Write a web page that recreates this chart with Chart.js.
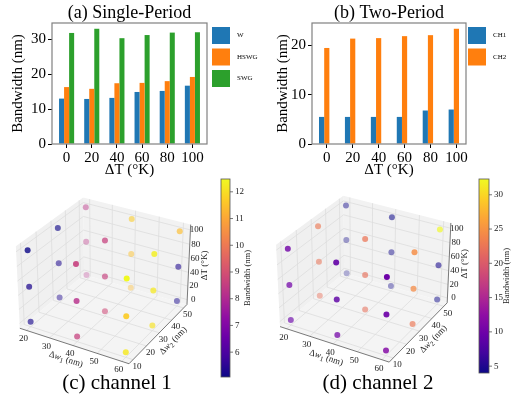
<!DOCTYPE html>
<html>
<head>
<meta charset="utf-8">
<script src="https://cdn.jsdelivr.net/npm/chart.js@4.4.0/dist/chart.umd.min.js"></script>
<style>
  body { margin: 0; background: #fff; }
  #wrap { position: relative; width: 514px; height: 400px; overflow: hidden; }
  canvas { position: absolute; }
</style>
</head>
<body>
<div id="wrap">
  <canvas id="chartA" width="262" height="180" style="left:0;top:0;width:262px;height:180px"></canvas>
  <canvas id="chartB" width="257" height="180" style="left:257px;top:0;width:257px;height:180px"></canvas>
  <canvas id="chartC" width="257" height="225" style="left:0;top:175px;width:257px;height:225px"></canvas>
  <canvas id="chartD" width="257" height="225" style="left:257px;top:175px;width:257px;height:225px"></canvas>
</div>
<script>
// ---- data: bar charts
const temps = ["0", "20", "40", "60", "80", "100"];
const singleW = [13.0, 12.9, 13.2, 14.9, 15.2, 16.7];
const singleHSWG = [16.3, 15.8, 17.4, 17.5, 18.0, 19.2];
const singleSWG = [31.8, 33.0, 30.3, 31.2, 31.9, 32.0];
const twoCH1 = [5.5, 5.5, 5.5, 5.5, 6.8, 7.0];
const twoCH2 = [19.5, 21.4, 21.5, 21.9, 22.1, 23.4];
const singleTicks = [0, 10, 20, 30];
const twoTicks = [0, 10, 20];

// ---- data: 3D scatter (rows: dw2 = 10, 30, 50; each row dw1 = 20, 40, 60)
const dw1Levels = [20, 40, 60];
const dw2Levels = [10, 30, 50];
const dTLevels = [0, 50, 100];
const ch1At0 = [5.2, 8.6, 12.2, 5.3, 8.8, 12.1, 8.2, 11.4, 5.2];
const ch1At50 = [5.3, 8.2, 11.7, 5.3, 8.6, 12.2, 8.3, 11.5, 5.3];
const ch1At100 = [5.07, 8.6, 12.48, 5.1, 8.6, 12.3, 8.3, 11.7, 11.4];
const ch2At0 = [9.5, 10.3, 11.6, 22.0, 22.0, 22.7, 4.0, 4.1, 4.0];
const ch2At50 = [10.2, 8.8, 9.9, 22.4, 22.0, 24.4, 4.1, 4.2, 4.5];
const ch2At100 = [10.2, 9.2, 10.0, 22.7, 22.4, 24.6, 4.2, 4.1, 32.3];
const dw1Ticks = [20, 30, 40, 50, 60];
const dw2Ticks = [10, 20, 30, 40, 50];
const dTTicks = [0, 20, 40, 60, 80, 100];
const cb1Ticks = [6, 7, 8, 9, 10, 11, 12];
const cb2Ticks = [5, 10, 15, 20, 25, 30];

const serif = '"Liberation Serif", "Times New Roman", serif';

// rectangle round the plot, like matplotlib spines
const frame = {
  id: "frame",
  afterDatasetsDraw(chart) {
    const { ctx, chartArea: a } = chart;
    ctx.save();
    ctx.strokeStyle = "#808080";
    ctx.lineWidth = 1.2;
    ctx.strokeRect(a.left, a.top, a.right - a.left, a.bottom - a.top);
    ctx.restore();
  },
};

// legend with big square handles placed outside the axes
const boxLegend = {
  id: "boxLegend",
  afterDraw(chart, args, opts) {
    const ctx = chart.ctx;
    let y = opts.y;
    ctx.save();
    chart.data.datasets.forEach((ds) => {
      if (!ds.label) return;
      ctx.fillStyle = ds.backgroundColor;
      ctx.fillRect(opts.x, y, 18, 17);
      ctx.fillStyle = "#000";
      ctx.font = "7px " + serif;
      ctx.textBaseline = "middle";
      ctx.fillText(ds.label, opts.x + 25, y + 8.5);
      y += opts.step;
    });
    ctx.restore();
  },
};

const toPoints = (arr) => arr.map((v, i) => ({ x: i, y: v }));

function barChart(id, title, datasets, xRange, ymax, yTicks, leftW, rightPad, yTitlePad, legendX) {
  return new Chart(document.getElementById(id), {
    type: "bar",
    data: { datasets: datasets },
    plugins: [frame, boxLegend],
    options: {
      responsive: false,
      animation: false,
      events: [],
      layout: { padding: { right: rightPad } },
      datasets: { bar: { categoryPercentage: 0.6, barPercentage: 1.0 } },
      scales: {
        x: {
          type: "linear",
          offset: false,
          min: xRange[0],
          max: xRange[1],
          afterFit: (s) => { s.height = 36; },
          afterBuildTicks: (s) => { s.ticks = temps.map((t, i) => ({ value: i })); },
          ticks: { font: { family: serif, size: 15 }, color: "#000", padding: 1, maxRotation: 0, callback: (v, i) => temps[i] },
          grid: { drawOnChartArea: false, offset: false, tickLength: 4, color: "#000" },
          border: { display: false },
          title: { display: true, text: "ΔT (°K)", font: { family: serif, size: 15 }, color: "#000", padding: { top: 0, bottom: 1 } },
        },
        y: {
          min: 0,
          max: ymax,
          afterFit: (s) => { s.width = leftW; },
          afterBuildTicks: (s) => { s.ticks = yTicks.map((v) => ({ value: v })); },
          ticks: { font: { family: serif, size: 15 }, color: "#000", padding: 2 },
          grid: { drawOnChartArea: false, tickLength: 4, color: "#000" },
          border: { display: false },
          title: { display: true, text: "Bandwidth (nm)", font: { family: serif, size: 15 }, color: "#000", padding: { top: yTitlePad, bottom: 0 } },
        },
      },
      plugins: {
        legend: { display: false },
        tooltip: { enabled: false },
        title: {
          display: true, text: title, color: "#000", fullSize: false,
          font: { family: serif, size: 18, weight: "normal", lineHeight: 1 }, padding: { top: 4, bottom: 1 },
        },
        boxLegend: { x: legendX, y: 27, step: 21.5 },
      },
    },
  });
}

barChart("chartA", "(a) Single-Period", [
  { label: "W", data: toPoints(singleW), backgroundColor: "#1f77b4" },
  { label: "HSWG", data: toPoints(singleHSWG), backgroundColor: "#ff7f0e" },
  { label: "SWG", data: toPoints(singleSWG), backgroundColor: "#2ca02c" },
], [-0.58, 5.58], 34.65, singleTicks, 52, 55, 9, 212);

// third empty slot keeps CH2 on the tick, as in the original
barChart("chartB", "(b) Two-Period", [
  { label: "CH1", data: toPoints(twoCH1), backgroundColor: "#1f77b4" },
  { label: "CH2", data: toPoints(twoCH2), backgroundColor: "#ff7f0e" },
  { label: "", data: toPoints(temps.map(() => null)), backgroundColor: "rgba(0,0,0,0)" },
], [-0.57, 5.37], 24.57, twoTicks, 55, 48, 17, 211);

// ---- 3D helpers
const plasmaStops = [
  [13, 8, 135], [65, 4, 157], [106, 0, 168], [143, 13, 164], [177, 42, 144], [204, 71, 120],
  [225, 100, 98], [242, 132, 75], [252, 166, 54], [252, 206, 37], [240, 249, 33],
];
function plasma(t, alpha) {
  t = Math.max(0, Math.min(1, t)) * 10;
  const i = Math.min(9, Math.floor(t));
  const f = t - i;
  const c = plasmaStops[i].map((v, k) => Math.round(v + (plasmaStops[i + 1][k] - v) * f));
  return `rgba(${c[0]},${c[1]},${c[2]},${alpha === undefined ? 1 : alpha.toFixed(3)})`;
}

const lims = [[18, 62], [8, 52], [-5, 105]];
const paneLims = lims.map(([a, b]) => [a - (b - a) / 48, b + (b - a) / 48]);

function makeProjector(cx, cy, s) {
  const e = (30 * Math.PI) / 180, a = (-60 * Math.PI) / 180, dist = 10;
  const aspect = [4, 4, 3];
  const n = Math.hypot(...aspect);
  const box = aspect.map((v) => (1.83 * v) / n);
  const w = [Math.cos(e) * Math.cos(a), Math.cos(e) * Math.sin(a), Math.sin(e)];
  const u = [-Math.sin(a), Math.cos(a), 0];
  const v = [-Math.sin(e) * Math.cos(a), -Math.sin(e) * Math.sin(a), Math.cos(e)];
  return (x, y, z) => {
    const p = [x, y, z].map((val, i) => ((val - lims[i][0]) / (lims[i][1] - lims[i][0]) - 0.5) * box[i]);
    const dot = (q) => q[0] * p[0] + q[1] * p[1] + q[2] * p[2];
    const depth = dist - dot(w);
    return { x: cx + (s * dot(u)) / depth, y: cy - (s * dot(v)) / depth, depth: depth };
  };
}

// text made of pieces (italic / subscript), centred and rotated
function richText(ctx, parts, x, y, angle, size) {
  ctx.save();
  ctx.translate(x, y);
  ctx.rotate(angle);
  ctx.fillStyle = "#222";
  ctx.textAlign = "left";
  ctx.textBaseline = "middle";
  const fonts = parts.map((p) => (p.it ? "italic " : "") + (p.sub ? Math.round(size * 0.75) : size) + "px " + serif);
  const widths = parts.map((p, i) => { ctx.font = fonts[i]; return ctx.measureText(p.t).width; });
  let px = -widths.reduce((s, w) => s + w, 0) / 2;
  parts.forEach((p, i) => {
    ctx.font = fonts[i];
    ctx.fillText(p.t, px, p.sub ? size * 0.3 : 0);
    px += widths[i];
  });
  ctx.restore();
}

const cubeDeco = {
  id: "cubeDeco",
  beforeDatasetsDraw(chart, args, o) {
    const ctx = chart.ctx;
    const sx = chart.scales.x, sy = chart.scales.y;
    const P = (x, y, z) => { const q = o.proj(x, y, z); return [sx.getPixelForValue(q.x), sy.getPixelForValue(q.y)]; };
    const [x0, x1] = paneLims[0], [y0, y1] = paneLims[1], [z0, z1] = paneLims[2];
    const poly = (pts, fill) => {
      ctx.beginPath();
      pts.forEach((p, i) => { const [a, b] = P(...p); i ? ctx.lineTo(a, b) : ctx.moveTo(a, b); });
      ctx.closePath();
      ctx.fillStyle = fill;
      ctx.fill();
    };
    const line = (pts, color, lw) => {
      ctx.beginPath();
      pts.forEach((p, i) => { const [a, b] = P(...p); i ? ctx.lineTo(a, b) : ctx.moveTo(a, b); });
      ctx.strokeStyle = color;
      ctx.lineWidth = lw;
      ctx.stroke();
    };
    ctx.save();
    poly([[x0, y0, z0], [x1, y0, z0], [x1, y1, z0], [x0, y1, z0]], "#f4f4f4");
    poly([[x0, y1, z0], [x1, y1, z0], [x1, y1, z1], [x0, y1, z1]], "#f2f2f2");
    poly([[x0, y0, z0], [x0, y1, z0], [x0, y1, z1], [x0, y0, z1]], "#f0f0f0");
    const g = "#dddddd";
    dw1Ticks.forEach((t) => line([[t, y0, z0], [t, y1, z0], [t, y1, z1]], g, 0.8));
    dw2Ticks.forEach((t) => line([[x1, t, z0], [x0, t, z0], [x0, t, z1]], g, 0.8));
    dTTicks.forEach((t) => line([[x0, y0, t], [x0, y1, t], [x1, y1, t]], g, 0.8));
    const ax = "#6a6a6a";
    line([[x0, y0, z0], [x1, y0, z0]], ax, 0.9);
    line([[x1, y0, z0], [x1, y1, z0]], ax, 0.9);
    line([[x1, y1, z0], [x1, y1, z1]], ax, 0.9);

    ctx.fillStyle = "#222";
    ctx.font = "9px " + serif;
    ctx.textAlign = "center";
    ctx.textBaseline = "middle";
    dw1Ticks.forEach((t) => { const [a, b] = P(t, y0, z0); ctx.fillText(String(t), a - 3, b + 8.5); });
    dw2Ticks.forEach((t) => { const [a, b] = P(x1, t, z0); ctx.fillText(String(t), a + 4, b + 7); });
    dTTicks.forEach((t) => { const [a, b] = P(x1, y1, t); ctx.fillText(String(t), a + 6, b); });

    const ang = (p, q) => Math.atan2(q[1] - p[1], q[0] - p[0]);
    const xa = P(x0, y0, z0), xb = P(x1, y0, z0), yb = P(x1, y1, z0);
    const xm = P(40, y0, z0), ym = P(x1, 30, z0), zm = P(x1, y1, 50);
    richText(ctx, [{ t: "Δ" }, { t: "w", it: true }, { t: "1", sub: true }, { t: " (nm)" }], xm[0] - 7, xm[1] + 14, ang(xa, xb), 9);
    richText(ctx, [{ t: "Δ" }, { t: "w", it: true }, { t: "2", sub: true }, { t: " (nm)" }], ym[0] + 14, ym[1] + 8, ang(xb, yb), 9);
    richText(ctx, [{ t: "ΔT (°K)" }], zm[0] + 16, zm[1], -Math.PI / 2, 9);
    ctx.restore();
  },
  afterDraw(chart, args, o) {
    const ctx = chart.ctx;
    const cb = o.cb;
    ctx.save();
    const grad = ctx.createLinearGradient(0, cb.bottom, 0, cb.top);
    for (let i = 0; i <= 20; i++) grad.addColorStop(i / 20, plasma(i / 20));
    ctx.fillStyle = grad;
    ctx.fillRect(cb.x, cb.top, cb.w, cb.bottom - cb.top);
    ctx.strokeStyle = "#555";
    ctx.lineWidth = 0.8;
    ctx.strokeRect(cb.x, cb.top, cb.w, cb.bottom - cb.top);
    ctx.fillStyle = "#222";
    ctx.font = "9px " + serif;
    ctx.textBaseline = "middle";
    ctx.textAlign = "left";
    cb.ticks.forEach((t) => {
      const y = cb.bottom - ((t - o.vmin) / (o.vmax - o.vmin)) * (cb.bottom - cb.top);
      ctx.beginPath();
      ctx.moveTo(cb.x + cb.w, y);
      ctx.lineTo(cb.x + cb.w + 3, y);
      ctx.stroke();
      ctx.fillText(String(t), cb.x + cb.w + 5, y);
    });
    richText(ctx, [{ t: "Bandwidth (nm)" }], cb.labelX, (cb.top + cb.bottom) / 2, -Math.PI / 2, 8.5);
    ctx.fillStyle = "#000";
    ctx.font = "21px " + serif;
    ctx.textAlign = "center";
    ctx.fillText(o.title, o.titleX, o.titleY);
    ctx.restore();
  },
};

function cubeChart(id, levels, cfg) {
  const canvas = document.getElementById(id);
  const proj = makeProjector(cfg.cx, cfg.cy, 1084);
  const all = levels.flat();
  const vmin = Math.min(...all), vmax = Math.max(...all);
  const pts = [];
  dTLevels.forEach((t, k) => dw2Levels.forEach((b, j) => dw1Levels.forEach((a, i) => {
    const q = proj(a, b, t);
    pts.push({ x: q.x, y: q.y, d: q.depth, v: levels[k][j * 3 + i] });
  })));
  const dmin = Math.min(...pts.map((p) => p.d)), dmax = Math.max(...pts.map((p) => p.d));
  pts.sort((p, q) => q.d - p.d); // far points first
  const colors = pts.map((p) => plasma((p.v - vmin) / (vmax - vmin), 1 - (0.7 * (p.d - dmin)) / (dmax - dmin)));
  return new Chart(canvas, {
    type: "scatter",
    data: { datasets: [{ data: pts, backgroundColor: colors, borderWidth: 0, pointRadius: 3, clip: false }] },
    plugins: [cubeDeco],
    options: {
      responsive: false,
      animation: false,
      events: [],
      layout: { padding: 0 },
      scales: {
        x: { type: "linear", display: false, min: 0, max: canvas.width },
        y: { type: "linear", display: false, min: 0, max: canvas.height, reverse: true },
      },
      plugins: {
        legend: { display: false },
        tooltip: { enabled: false },
        cubeDeco: { proj: proj, vmin: vmin, vmax: vmax, cb: cfg.cb, title: cfg.title, titleX: cfg.titleX, titleY: cfg.titleY },
      },
    },
  });
}

cubeChart("chartC", [ch1At0, ch1At50, ch1At100], {
  cx: 104.2, cy: 101.2, title: "(c) channel 1", titleX: 117, titleY: 208,
  cb: { x: 221, top: 4, bottom: 202, w: 9, ticks: cb1Ticks, labelX: 248 },
});
cubeChart("chartD", [ch2At0, ch2At50, ch2At100], {
  cx: 107.5, cy: 99.5, title: "(d) channel 2", titleX: 121, titleY: 208,
  cb: { x: 222, top: 4, bottom: 198, w: 10, ticks: cb2Ticks, labelX: 250 },
});
</script>
</body>
</html>
